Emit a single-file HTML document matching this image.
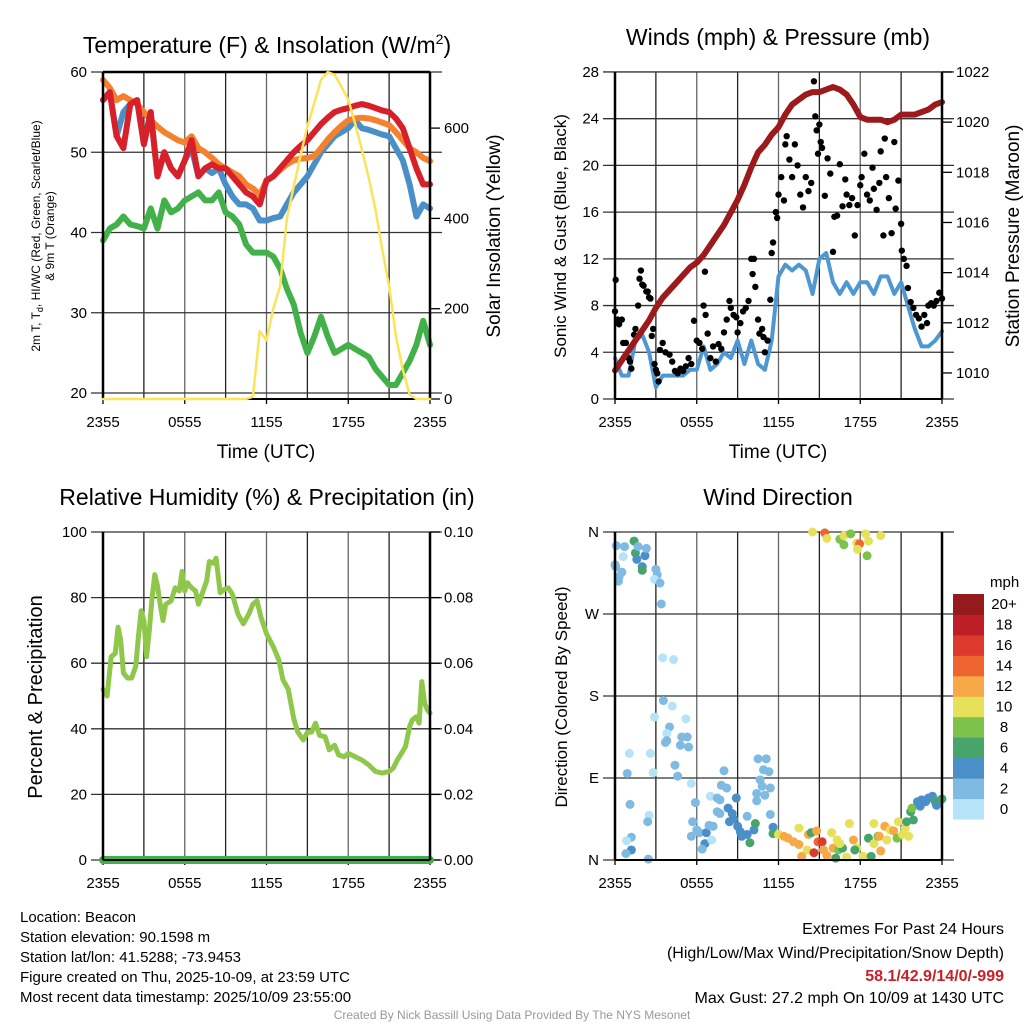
<!DOCTYPE html>
<html><head><meta charset="utf-8"><style>
html,body{margin:0;padding:0;background:#fff;}
svg{display:block;font-family:"Liberation Sans",sans-serif;}
</style></head><body>
<svg id="chart" width="1024" height="1024" viewBox="0 0 1024 1024" xmlns="http://www.w3.org/2000/svg">
<rect width="1024" height="1024" fill="#fff"/>
<g id="p1"></g>
<g id="p2"></g>
<g id="p3"></g>
<g id="p4"></g>
<text x="267" y="53" font-size="23" text-anchor="middle">Temperature (F) &amp; Insolation (W/m<tspan font-size="14" dy="-9">2</tspan><tspan dy="9">)</tspan></text>
<text x="778" y="45" font-size="23" text-anchor="middle">Winds (mph) &amp; Pressure (mb)</text>
<text x="267" y="505" font-size="23" text-anchor="middle">Relative Humidity (%) &amp; Precipitation (in)</text>
<text x="778" y="505" font-size="23" text-anchor="middle">Wind Direction</text>
<g font-size="19" text-anchor="middle">
<text x="266" y="458">Time (UTC)</text>
<text x="778" y="458">Time (UTC)</text>
<text transform="translate(500,236) rotate(-90)">Solar Insolation (Yellow)</text>
<text transform="translate(566,236) rotate(-90)" font-size="17">Sonic Wind &amp; Gust (Blue, Black)</text>
<text transform="translate(1019,236) rotate(-90)">Station Pressure (Maroon)</text>
<text transform="translate(42,697) rotate(-90)" font-size="20">Percent &amp; Precipitation</text>
<text transform="translate(567,697) rotate(-90)" font-size="17">Direction (Colored By Speed)</text>
</g>
<g font-size="12" text-anchor="middle">
<text transform="translate(40,236) rotate(-90)">2m T, T<tspan font-size="9" dy="3">d</tspan><tspan dy="-3">, HI/WC (Red, Green, Scarlet/Blue)</tspan></text>
<text transform="translate(54,236) rotate(-90)">&amp; 9m T (Orange)</text>
</g>
<g font-size="15">
<text x="20" y="922">Location: Beacon</text>
<text x="20" y="942">Station elevation: 90.1598 m</text>
<text x="20" y="962">Station lat/lon: 41.5288; -73.9453</text>
<text x="20" y="982">Figure created on Thu, 2025-10-09, at 23:59 UTC</text>
<text x="20" y="1002">Most recent data timestamp: 2025/10/09 23:55:00</text>
</g>
<g font-size="16" text-anchor="end">
<text x="1004" y="934">Extremes For Past 24 Hours</text>
<text x="1004" y="958">(High/Low/Max Wind/Precipitation/Snow Depth)</text>
<text x="1004" y="981" fill="#c8202a" font-weight="bold">58.1/42.9/14/0/-999</text>
<text x="1004" y="1003">Max Gust: 27.2 mph On 10/09 at 1430 UTC</text>
</g>
<text x="512" y="1019" font-size="12" fill="#999" text-anchor="middle">Created By Nick Bassill Using Data Provided By The NYS Mesonet</text>
<g id="cbar"></g>
</svg>
<script>
// ---- data ----
const hours = [0,0.5,1,1.5,2,2.5,3,3.5,4,4.5,5,5.5,6,6.5,7,7.5,8,8.5,9,9.5,10,10.5,11,11.5,12,12.5,13,13.5,14,14.5,15,15.5,16,16.5,17,17.5,18,18.5,19,19.5,20,20.5,21,21.5,22,22.5,23,23.5,24];
const tempOrange = [59,58,56.5,57,56.5,56,55,54,53.2,52.5,52,51.5,51.2,52,50.5,50,49.3,48.5,48,47.5,47,46,45.5,44.7,46.4,47,47.8,48.5,49,49.2,49.3,49.5,50.5,51.6,52.5,53.3,54,54.2,54.3,54.2,54,53.7,53.4,52.5,51.5,50.5,50,49.3,48.9];
const tempRed = [56.5,57.5,52,50.5,56,56.5,51,55,47,50,48,47,49,51.5,47,48,48.5,48,48,47,46,45,44.5,43.5,46.5,47,48,49,50,50.8,51.5,52.5,53.5,54.3,55,55.3,55.5,55.8,56,55.8,55.5,55.2,55,54.2,53,50.5,48,46,46];
const tempBlue = [56.5,57.5,52,55,56,56.5,51,55,47,50,48,47,49,50.5,47,48,47.4,48,46,44.5,43.5,43.5,43,41.5,41.5,41.8,42,43.5,45,46,47,48.5,50,51,52,52.5,53,54,53,52.8,52.5,52.2,52,50.5,49,46,42,43.5,43];
const tempGreen = [39,40.5,41,42,41,40.8,40.5,43,40.5,44,42.5,43,44,44.5,45,44,44,45,42.5,42,41,38.5,37.5,37.5,37.5,37,35.5,33,31,27.5,25,27,29.5,27,25,25.5,26,25.5,25,24.5,23,22,21,21,22.5,24,26,29,26];
const solar = [0,0,0,0,0,0,0,0,0,0,0,0,0,0,0,0,0,0,0,0,0,0,5,150,130,200,250,400,471,540,604,655,707,724,718,692,663,610,552,490,419,330,250,139,65,10,0,0,0];
const pressure = [1010.1,1010.5,1010.9,1011.3,1011.7,1012.1,1012.6,1013,1013.3,1013.6,1013.9,1014.2,1014.4,1014.7,1015.1,1015.5,1015.9,1016.4,1016.9,1017.5,1018.2,1018.8,1019.1,1019.5,1019.8,1020.3,1020.7,1020.9,1021.1,1021.2,1021.2,1021.3,1021.4,1021.3,1021.1,1020.7,1020.2,1020.1,1020.1,1020.1,1020,1020.1,1020.3,1020.3,1020.3,1020.4,1020.5,1020.7,1020.8];
const windSpeed = [3.5,2,2,5,5.5,4,1,2,2,2,2,2.5,2.5,4.5,2.5,3,4,3.5,5,3,5,3,2.5,5,10.5,11.5,11,11.5,11,9,12,12.5,10,9,10,9,10,10,9,10.5,10.5,9,10,8,6,4.5,4.5,5,5.8];
const gustH = [0,0.05,0.2,0.3,0.5,0.6,0.8,1,1.1,1.2,1.4,1.5,1.7,1.8,1.9,2,2.1,2.3,2.4,2.5,2.6,2.7,2.8,2.9,3,3.1,3.2,3.3,3.5,3.7,4,4.2,4.4,4.6,4.8,5,5.2,5.4,5.6,5.8,6,6.2,6.4,6.5,6.6,6.65,6.8,7,7.2,7.4,7.6,7.8,8,8.2,8.4,8.5,8.7,8.9,9,9.2,9.4,9.6,9.8,10,10.1,10.2,10.3,10.5,10.6,10.8,10.9,11,11.2,11.4,11.5,11.6,11.8,11.9,12,12.2,12.4,12.5,12.6,12.8,13,13.2,13.4,13.6,13.8,14,14.2,14.4,14.6,14.7,14.8,14.9,15,15.1,15.2,15.4,15.6,15.8,16,16.1,16.3,16.5,16.7,16.9,17,17.2,17.4,17.6,17.8,18,18.1,18.3,18.5,18.7,18.9,19,19.2,19.4,19.5,19.7,19.8,19.9,20.1,20.3,20.5,20.6,20.8,21,21.05,21.2,21.4,21.5,21.7,21.9,22.1,22.3,22.5,22.7,22.9,23,23.2,23.4,23.6,23.8,24];
const gustV = [7.5,10.2,6.8,6.4,6.8,4.8,4.8,3.5,3.2,2.6,5.5,6,8,10.3,11,9.8,9.7,9.2,9.2,8.7,8.6,5.4,6,3,2.5,2.2,1.5,4.2,4.8,4,3.8,3.2,2.4,2.2,2.6,2.4,2.8,3.5,3,6.7,5,4.8,4.3,8,10.9,7.2,5.6,3.5,4.5,3.2,4.7,4.3,5.7,6.8,8.4,7.8,7.2,7,5.7,6.5,7.5,7.8,8.4,12,10.7,12,9.6,6.8,5.6,6,5.3,4,5,8.5,12.5,13.4,16,15.5,17.5,19,17,21.8,22.5,20.5,19,21.8,20,17.5,16.4,19,17.8,18.5,27.2,24.2,23,21,23.5,22,21.5,17.4,20.6,19.3,12.6,15.6,15.7,20.1,16.5,18.8,17.5,16.6,17.2,14,16.6,18.3,19,21,17.5,17,19.8,18,16.2,18.5,21.2,14,22.3,19,17.2,14.2,22,16.3,18.7,15,12.7,12,11.4,9.5,8.3,7.8,7.2,6.9,6.2,7.2,6.5,8,8.2,8,8.4,9.1,8.6];
const rhHours = [0,0.3,0.6,0.9,1.1,1.3,1.5,1.8,2.1,2.4,2.6,2.8,3,3.2,3.4,3.6,3.8,4,4.2,4.4,4.6,5,5.3,5.6,5.8,6,6.2,6.5,6.8,7,7.3,7.6,7.8,8.1,8.3,8.6,8.9,9.2,9.5,9.9,10.3,10.7,11,11.3,11.6,12,12.5,12.9,13.2,13.6,14,14.3,14.7,15,15.3,15.6,15.9,16.3,16.6,17,17.3,17.7,18,18.5,19,19.5,20,20.5,21,21.3,21.6,21.9,22.2,22.5,22.7,23,23.2,23.4,23.6,23.8,24];
const rhValues = [52,50,62,63,71,67,57,55.5,55.5,59,68,76,73,62,70,80,87,83.5,78,73,78,79,83,82,88,82,84.5,83,82,78,81.5,85,91,90.5,92,81.5,82.5,83,81,75,72,75,78,79,74,69,65,61,55,52,43,39,36.6,39,39,41.7,38,37.6,33.6,35,32,31.5,32.5,31.5,30.5,29,27,26.5,27,28,30.5,32.5,34.6,40.7,42.7,43.7,41.7,54.4,47.8,45.8,44.8];
const precip = [0,0];
const dirH = [0.1,0.7,0,0.05,0.3,0.25,0.5,0.6,1.4,1.5,1.7,1.6,2,2,2.2,2.3,3,3.1,2.9,3.3,3.4,3.5,4.3,3.55,4.2,2.9,5.2,4,3.8,3.8,3.7,4.9,5.3,4.8,5.4,4.4,4.6,5.6,1.05,2.6,0.9,2.8,1.1,2.5,2.4,1.2,0.85,1.2,0.8,2.45,5.9,5.7,6,5.6,6.2,6.7,6.6,6.4,7.1,6.9,7.2,7,7.5,7.7,7.5,7.7,8,7.8,8.2,8.3,8.6,8.4,8.9,8.7,9,9.2,9.3,9.7,9.7,9.9,10.2,10.3,10.5,11.1,10.9,11.3,10.65,10.8,10.4,11,11.4,10.4,11.4,11.6,11.6,12,12.4,12.7,13.1,13.5,13.5,13.7,14.1,14.2,14.4,14.6,14.8,14.9,15.2,15.3,15.55,15.9,16,16.3,16.4,16.7,16.5,16.2,17,17.2,17.5,17.75,17.6,18.2,18.6,18.8,19,19,19.3,19.4,19.5,19.8,19.95,20.2,20.45,20.7,20.8,21.1,21.3,21.4,21.55,21.7,21.9,21.8,22.2,22.4,22.5,22.8,23,23.3,23.5,23.6,23.9,24,14.5,15.4,15.55,16.5,16.8,16.8,17.3,17.75,17.95,17.8,18.4,18.6,18.5,19.5];
const dirDeg = [345,344,324,322,311,306,316,333,350,337,344,330,322,318,334,342,319,313,308,304,281,222,220,175,169,157,155,146,139,131,129,135,135,126,124,104,92,84,117,117,95,96,61,49,42,25,21,11,7,1,63,42,33,26,30,30,18,12,22,38,37,70,68,66,53,51,98,82,79,57,51,42,68,45,37,31,26,28,48,19,33,40,111,111,99,97,88,81,73,71,79,65,50,36,29,28,26,24,20,35,17,4,11,28,30,8,32,20,20,11,5,30,13,22,11,13,18,2,3,40,22,13,11,4,24,4,18,40,26,26,10,37,22,33,32,24,42,28,35,42,26,53,44,57,64,59,66,64,68,70,64,60,66,67,360,359,353,352,346,356,358,348,347,341,358,350,334,356];
const dirSpd = [2,2,2,2,2,2,2,0,6,6,2,4,4,6,4,2,2,2,0,2,2,0,0,2,0,0,0,2,0,2,2,2,2,2,2,2,2,0,0,0,2,0,2,0,2,2,0,4,2,2,2,2,2,2,2,4,4,2,0,2,2,0,2,2,2,2,2,2,2,4,4,4,4,4,4,4,4,4,2,6,4,6,2,2,2,2,2,2,2,2,2,2,2,4,6,10,12,12,12,10,12,12,10,12,6,16,12,14,16,12,12,10,12,10,8,6,10,6,10,10,12,10,6,10,6,6,10,10,8,12,12,12,10,10,12,8,10,10,10,6,10,6,6,8,4,4,4,4,4,4,6,4,6,6,10,14,10,8,8,10,8,10,14,10,10,10,8,10];
const cbLabels = ["0","2","4","6","8","10","12","14","16","18","20+"];
const cbColors = ["#b6e3f7","#7fbae3","#4a8fc7","#47a56b","#7cc24b","#e7e05a","#f6a946","#ee6530","#dc3a2c","#be1e27","#951a1d"];
const xTickLabels = ["2355","0555","1155","1755","2355"];

// ---- helpers ----
const NS = "http://www.w3.org/2000/svg";
function mk(tag, attrs, parent){
  const e = document.createElementNS(NS, tag);
  for (const k in attrs) e.setAttribute(k, attrs[k]);
  parent.appendChild(e);
  return e;
}
function panel(g, x0, x1, y0, y1){
  const xs = h => x0 + (x1 - x0) * h / 24;
  for (let i = 1; i < 8; i++){
    const l = mk("line",{x1:xs(i*3),x2:xs(i*3),y1:y0,y2:y1,stroke:i%2?"#222":"#666","stroke-width":1.3},g);
    
    
  }
  xTickLabels.forEach((t,i)=>{
    const x = xs(i*6);
    mk("line",{x1:x,x2:x,y1:y1,y2:y1+5,stroke:"#000","stroke-width":1.3},g);
    const tx = mk("text",{x:x,y:y1+28,"font-size":15,"text-anchor":"middle"},g);
    tx.textContent = t;
    
    
  });
  return xs;
}
function hgrid(g, x0, x1, ys, vals, labels){
  vals.forEach((v,i)=>{
    const y = ys(v);
    const l = mk("line",{x1:x0-12,x2:x1+12,y1:y,y2:y,stroke:"#333","stroke-width":1.3},g);
    
    
    const t = mk("text",{x:x0-16,y:y+5,"font-size":15,"text-anchor":"end"},g);
    t.textContent = labels[i];
    
    
  });
}
function rlabels(g, x1, ys, vals, labels){
  vals.forEach((v,i)=>{
    const y = ys(v);
    mk("line",{x1:x1,x2:x1+10,y1:y,y2:y,stroke:"#000","stroke-width":1.3},g);
    const t = mk("text",{x:x1+14,y:y+5,"font-size":15},g);
    t.textContent = labels[i];
    
    
  });
}
function frame(g,x0,x1,y0,y1,top){
  mk("line",{x1:x0,x2:x0,y1:y0,y2:y1,stroke:"#000","stroke-width":2.5},g);
  mk("line",{x1:x1,x2:x1,y1:y0,y2:y1,stroke:"#000","stroke-width":2.5},g);
  mk("line",{x1:x0,x2:x1,y1:y1,y2:y1,stroke:"#000","stroke-width":2},g);
  if(top) mk("line",{x1:x0,x2:x1,y1:y0,y2:y0,stroke:"#000","stroke-width":2.5},g);
}
function line(g, xsArr, ysArr, color, w, name){
  const d = xsArr.map((x,i)=>(i?"L":"M")+x.toFixed(1)+","+ysArr[i].toFixed(1)).join("");
  const p = mk("path",{d:d,fill:"none",stroke:color,"stroke-width":w,"stroke-linejoin":"round","stroke-linecap":"round"},g);
  
  
  return p;
}

// ---- panel 1 ----
(function(){
  const g = document.getElementById("p1");
  const x0=103,x1=430,y0=72,y1=399;
  const xs = panel(g,x0,x1,y0,y1);
  const ys = v => y0 + (60 - v) * 8.025;
  const yr = v => y1 - v * 0.4515;
  hgrid(g,x0,x1,ys,[20,30,40,50,60],["20","30","40","50","60"]);
  rlabels(g,x1,yr,[0,200,400,600],["0","200","400","600"]);
  const hx = hours.map(xs);
  line(g,hx,tempBlue.map(ys),"#4a8fc7",6,"temp-hiwc-blue-line");
  line(g,hx,tempOrange.map(ys),"#f5802e",6,"temp-9m-orange-line");
  line(g,hx,tempRed.map(ys),"#d7202a",6,"temp-2m-red-line");
  line(g,hx,tempGreen.map(ys),"#43b14a",6,"dewpoint-green-line");
  frame(g,x0,x1,y0,y1,true);
  line(g,hx,solar.map(yr),"#fbe35a",2.5,"solar-yellow-line");
})();

// ---- panel 2 ----
(function(){
  const g = document.getElementById("p2");
  const x0=615,x1=942,y0=72,y1=399;
  const xs = panel(g,x0,x1,y0,y1);
  const ys = v => y1 - v * 11.68;
  const yp = v => 72 + (1022 - v) * 25.08;
  hgrid(g,x0,x1,ys,[0,4,8,12,16,20,24,28],["0","4","8","12","16","20","24","28"]);
  rlabels(g,x1,yp,[1010,1012,1014,1016,1018,1020,1022],["1010","1012","1014","1016","1018","1020","1022"]);
  const hx = hours.map(xs);
  line(g,hx,windSpeed.map(ys),"#4f97d2",4,"wind-speed-line");
  gustH.forEach((h,i)=>{
    const c = mk("circle",{cx:xs(h),cy:ys(gustV[i]),r:3.2,fill:"#000"},g);
    
    
  });
  line(g,hx,pressure.map(yp),"#9c1a1c",6,"pressure-line");
  frame(g,x0,x1,y0,y1,false);
})();

// ---- panel 3 ----
(function(){
  const g = document.getElementById("p3");
  const x0=103,x1=430,y0=532,y1=860;
  const xs = panel(g,x0,x1,y0,y1);
  const ys = v => y1 - v * 3.28;
  const yr = v => y1 - v * 3280;
  hgrid(g,x0,x1,ys,[0,20,40,60,80,100],["0","20","40","60","80","100"]);
  rlabels(g,x1,yr,[0,0.02,0.04,0.06,0.08,0.1],["0.00","0.02","0.04","0.06","0.08","0.10"]);
  line(g,rhHours.map(xs),rhValues.map(ys),"#8fc74a",5,"humidity-line");
  line(g,[xs(0),xs(24)],precip.map(yr),"#3fb14a",8,"precip-line");
  frame(g,x0,x1,y0,y1,false);
})();

// ---- panel 4 ----
(function(){
  const g = document.getElementById("p4");
  const x0=615,x1=942,y0=532,y1=860;
  const xs = panel(g,x0,x1,y0,y1);
  const ys = d => y1 - d * (y1 - y0) / 360;
  hgrid(g,x0,x1,ys,[0,90,180,270,360],["N","E","S","W","N"]);
  dirH.forEach((h,i)=>{
    const idx = Math.min(10, Math.round(dirSpd[i]/2));
    const c = mk("circle",{cx:xs(h),cy:ys(dirDeg[i]),r:4.5,fill:cbColors[idx]},g);
    
    
  });
  frame(g,x0,x1,y0,y1,false);
  const cb = document.getElementById("cbar");
  const bx=953,bw=31,by=594,bh=225/11;
  const t = mk("text",{x:990,y:587,"font-size":15},cb);
  t.textContent = "mph";
  
  
  cbColors.forEach((c,i)=>{
    const yy = by + (10-i)*bh;
    const r = mk("rect",{x:bx,y:yy,width:bw,height:bh+0.5,fill:c},cb);
    
    
    const tl = mk("text",{x:1004,y:yy+bh/2+5,"font-size":15,"text-anchor":"middle"},cb);
    tl.textContent = cbLabels[i];
    
    
  });
})();
</script>
</body></html>
